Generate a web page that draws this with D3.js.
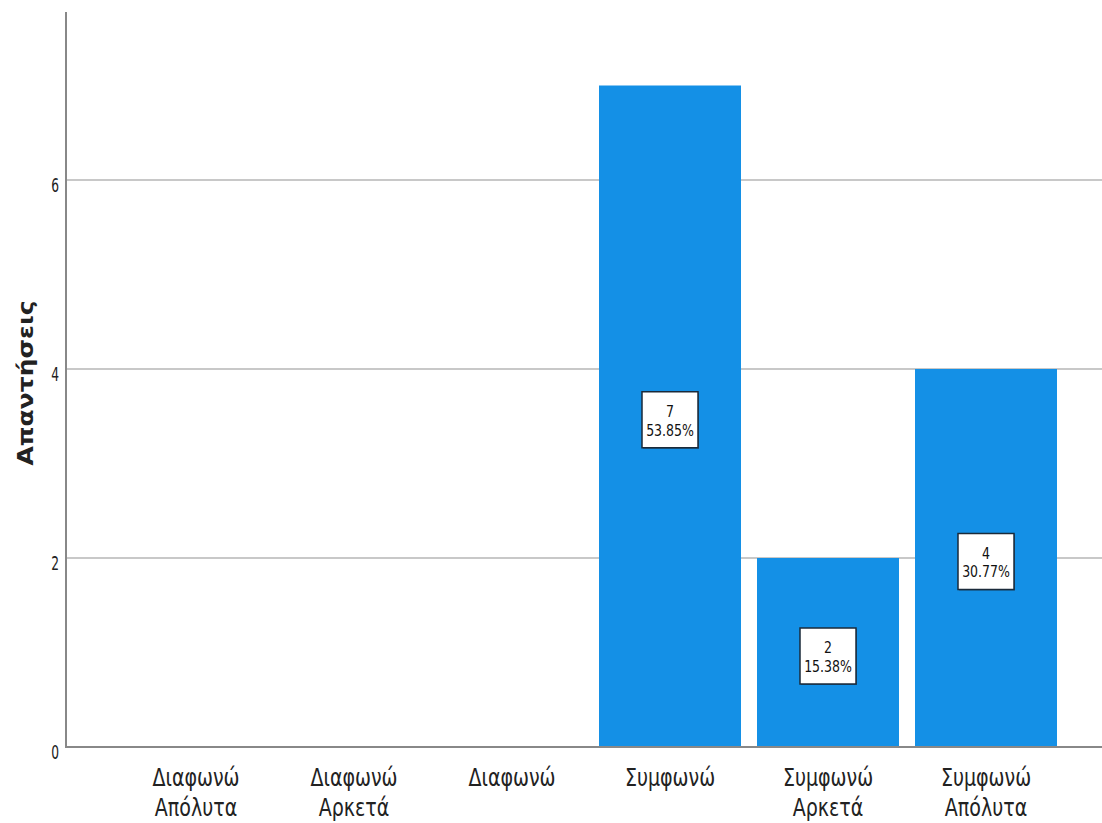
<!DOCTYPE html>
<html><head><meta charset="utf-8">
<script src="https://cdn.jsdelivr.net/npm/d3@7"></script>
<style>body{margin:0;background:#fff}</style>
</head><body><svg id="c" width="1102" height="823"></svg>
<script>
const categories = [["Διαφωνώ","Απόλυτα"],["Διαφωνώ","Αρκετά"],["Διαφωνώ"],["Συμφωνώ"],["Συμφωνώ","Αρκετά"],["Συμφωνώ","Απόλυτα"]];
const counts = [0,0,0,7,2,4];
const percents = ["","","","53.85%","15.38%","30.77%"];
const yTicks = [0,2,4,6];
const yTitle = "Απαντήσεις";

const font = "'DejaVu Sans Condensed','Liberation Sans Narrow',sans-serif";
const svg = d3.select("#c");
const x0 = 66, x1 = 1102, yTop = 12, yBase = 747;
const x = d3.scaleBand().domain(d3.range(categories.length)).range([117,1065]).paddingInner(16/158).paddingOuter(8/158);
const y = d3.scaleLinear().domain([0,7.8]).range([yBase, yBase-189*3.9]);

// gridlines
svg.append("g").selectAll("line").data(yTicks.filter(d=>d>0)).join("line")
  .attr("x1",x0).attr("x2",x1).attr("y1",d=>y(d)).attr("y2",d=>y(d))
  .attr("stroke","#c8c8c8").attr("stroke-width",2);

// bars
const data = counts.map((v,i)=>({i,v,p:percents[i]}));
svg.append("g").selectAll("rect").data(data.filter(d=>d.v>0)).join("rect")
  .attr("x",d=>x(d.i)).attr("width",x.bandwidth())
  .attr("y",d=>y(d.v)).attr("height",d=>yBase-y(d.v))
  .attr("fill","#1490e6");

// y tick labels (narrow)
svg.append("g").selectAll("text").data(yTicks).join("text")
  .attr("transform",d=>`translate(59,${y(d)+12}) scale(0.68,1)`)
  .attr("text-anchor","end").attr("font-family",font).attr("font-size",20).attr("fill","#222").text(d=>d);

svg.append("line").attr("x1",x0).attr("x2",x0).attr("y1",yTop).attr("y2",yBase+1).attr("stroke","#888").attr("stroke-width",2);
svg.append("line").attr("x1",x0).attr("x2",x1).attr("y1",yBase).attr("y2",yBase).attr("stroke","#888").attr("stroke-width",2);

// x labels (one text per category, lines as tspans)
const xt = svg.append("g").selectAll("text").data(categories).join("text")
  .attr("transform",(d,i)=>`translate(${x(i)+x.bandwidth()/2},786) scale(0.83,1)`)
  .attr("text-anchor","middle").attr("font-family",font).attr("font-size",25.5).attr("fill","#222");
xt.selectAll("tspan").data(d=>d).join("tspan")
  .attr("x",0).attr("y",(d,j)=>j*30).text(d=>d);

// y title
svg.append("text").attr("transform","translate(33,383) rotate(-90)")
  .attr("text-anchor","middle").attr("font-family","'DejaVu Sans',sans-serif")
  .attr("font-weight","bold").attr("font-size",22).attr("fill","#222")
  .attr("textLength",165).attr("lengthAdjust","spacingAndGlyphs").text(yTitle);

// value labels
const lab = svg.append("g").selectAll("g").data(data.filter(d=>d.v>0)).join("g")
  .attr("transform",d=>`translate(${x(d.i)+x.bandwidth()/2},${y(d.v/2)+3.5})`);
lab.append("rect").attr("x",-27).attr("y",-27).attr("width",56).attr("height",56)
  .attr("fill","#1a2a3a").attr("opacity",0.5);
lab.append("rect").attr("x",-28).attr("y",-28).attr("width",56).attr("height",56)
  .attr("fill","#fff").attr("stroke","#1a2a3a").attr("stroke-width",1.5);
const lt = lab.append("text").attr("transform","scale(0.87,1)").attr("text-anchor","middle")
  .attr("font-family",font).attr("font-size",16).attr("fill","#111");
lt.append("tspan").attr("x",0).attr("y",-3).text(d=>d.v);
lt.append("tspan").attr("x",0).attr("y",16).text(d=>d.p);
</script></body></html>
